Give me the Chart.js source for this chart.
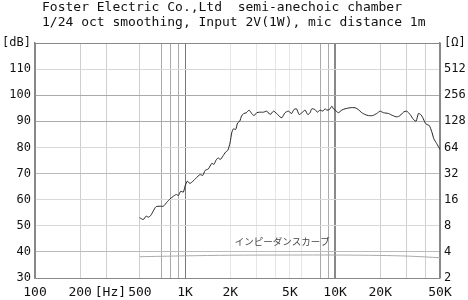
<!DOCTYPE html>
<html><head><meta charset="utf-8">
<script src="https://cdn.jsdelivr.net/npm/chart.js@4"></script>
<style>html,body{margin:0;padding:0;background:#fff}#wrap{width:468px;height:300px}</style>
</head><body><div id="wrap"><canvas id="c" width="468" height="300"></canvas></div>
<script>
const TITLE_LINES = ["Foster Electric Co.,Ltd  semi-anechoic chamber", "1/24 oct smoothing, Input 2V(1W), mic distance 1m"];
const IMP_LABEL = "インピーダンスカーブ";
const X_TICKS = [100, 200, 300, 500, 700, 800, 900, 1000, 2000, 3000, 4000, 5000, 6000, 8000, 9000, 10000, 20000, 30000, 40000, 50000];
const X_LABELS = {100:"100", 200:"200", 500:"500", 1000:"1K", 2000:"2K", 5000:"5K", 10000:"10K", 20000:"20K", 50000:"50K"};
const X_UNIT = "[Hz]";
const FREQ = [497,527,550,570,590,613,640,681,718,756,794,836,873,902,936,975,1000,1037,1076,1130,1190,1259,1312,1361,1430,1507,1558,1607,1660,1718,1783,1862,1928,1995,2046,2097,2175,2240,2317,2377,2460,2566,2673,2780,2883,3005,3130,3330,3508,3690,3882,4080,4290,4420,4640,4880,5130,5310,5530,5760,6060,6310,6570,6810,6990,7350,7620,7940,8270,8570,8800,9160,9510,9750,10000,10520,11070,11650,12590,13590,14290,15040,15850,16660,17800,18930,19950,20990,22660,24230,25760,27100,28500,29980,31620,33260,34670,35900,37200,38400,39810,40830,42400,43960,45500,47500,50000];
const SPL = [53.1,52.4,53.7,53.3,53.9,55.6,57.3,57.5,57.5,59.0,60.3,61.3,62.0,61.6,63.2,62.9,65.2,67.1,66.2,67.1,68.4,69.6,69.3,71.2,71.8,73.9,73.5,75.1,76.0,75.4,76.6,78.2,78.9,81.8,85.6,87.1,86.9,89.4,90.1,92.0,93.0,93.3,94.3,93.0,92.2,93.3,93.5,93.5,93.9,92.6,93.9,93.0,91.7,91.4,93.3,93.9,93.0,94.5,94.8,92.6,93.5,94.3,92.6,93.3,94.8,94.5,93.5,94.3,93.9,94.8,94.3,94.5,95.8,94.8,94.3,93.3,94.3,94.8,95.2,95.2,94.5,93.3,92.6,92.2,92.2,93.0,93.9,93.3,93.0,92.2,91.7,92.2,93.5,93.9,92.6,90.7,90.1,93.0,92.6,91.4,89.4,88.8,88.4,86.2,83.3,81.5,79.2];
const IMP_FREQ = [500,700,1000,2000,5000,10000,20000,30000,40000,50000];
const IMP_OHM = [3.52,3.56,3.6,3.66,3.68,3.68,3.64,3.58,3.5,3.42];

const xGridColor = v => {
  if (v === 1000) return '#777';
  if (v === 10000) return '#888';
  if ([700,800,900,8000,9000].includes(v)) return '#aaa';
  if ([2000,3000,4000,5000,6000].includes(v)) return '#e6e6e6';
  if (v === 100 || v === 50000) return '#888';
  return '#cfcfcf';
};
const yGridColor = v => {
  if (v === 120 || v === 30) return '#888';
  if (v === 100 || v === 90) return '#aaa';
  if (v === 70 || v === 40) return '#bbb';
  return '#d8d8d8';
};

const textPlugin = {
  id: 'texts',
  afterDraw(chart) {
    const ctx = chart.ctx;
    ctx.save();
    ctx.fillStyle = '#111';
    ctx.font = '13px "DejaVu Sans Mono"';
    ctx.textAlign = 'left';
    ctx.textBaseline = 'alphabetic';
    ctx.fillText(TITLE_LINES[0], 42, 11);
    ctx.fillText(TITLE_LINES[1], 42, 26);
    const xs = chart.scales.x, yo = chart.scales.yOhm;
    ctx.textAlign = 'center';
    ctx.textBaseline = 'middle';
    ctx.fillText(X_UNIT, xs.getPixelForValue(318), xs.bottom - 22 + 15);
    ctx.fillStyle = '#444';
    ctx.font = '9.5px "Noto Sans CJK JP"';
    ctx.fillText(IMP_LABEL, xs.getPixelForValue(4450), yo.getPixelForValue(Math.log2(5.3)));
    ctx.restore();
  }
};

new Chart(document.getElementById('c'), {
  type: 'line',
  data: {
    datasets: [
      { data: FREQ.map((f,i)=>({x:f,y:SPL[i]})), yAxisID:'y', borderColor:'#222', borderWidth:1, pointRadius:0, tension:0.2 },
      { data: IMP_FREQ.map((f,i)=>({x:f,y:Math.log2(IMP_OHM[i])})), yAxisID:'yOhm', borderColor:'#aaa', borderWidth:1, pointRadius:0, tension:0.3 }
    ]
  },
  options: {
    responsive:false, animation:false,
    layout:{padding:{top:43,left:0,right:0,bottom:0}},
    plugins:{legend:{display:false}, tooltip:{enabled:false}, title:{display:false}},
    scales:{
      x:{ type:'logarithmic', min:100, max:50000,
        afterBuildTicks: s => { s.ticks = X_TICKS.map(v=>({value:v})); },
        afterFit: s => { s.height = 22; },
        grid:{ color: c => xGridColor(c.tick ? c.tick.value : 0), lineWidth: c => (c.tick && c.tick.value===10000)?2:1, drawTicks:false },
        border:{display:false},
        ticks:{ autoSkip:false, maxRotation:0, padding:7, color:'#111', font:{family:'DejaVu Sans Mono', size:13},
          callback: v => X_LABELS[v] !== undefined ? X_LABELS[v] : '' }
      },
      y:{ type:'linear', position:'left', min:30, max:120,
        afterFit: s => { s.width = 35; },
        grid:{ color: c => yGridColor(c.tick ? c.tick.value : 0), drawTicks:false },
        border:{color:'#888', width:1.5},
        ticks:{ stepSize:10, padding:4, color:'#111', font:{family:'DejaVu Sans Mono', size:12},
          callback: v => v===120 ? '[dB]' : String(v) }
      },
      yOhm:{ type:'linear', position:'right', min:1, max:10,
        afterFit: s => { s.width = 28; },
        grid:{ drawOnChartArea:false, drawTicks:false },
        border:{color:'#888', width:1.5},
        ticks:{ stepSize:1, padding:4, color:'#111', font:{family:'DejaVu Sans Mono', size:12},
          callback: v => v===10 ? '[Ω]' : String(Math.pow(2, v)) }
      }
    }
  },
  plugins:[textPlugin]
});
</script></body></html>
